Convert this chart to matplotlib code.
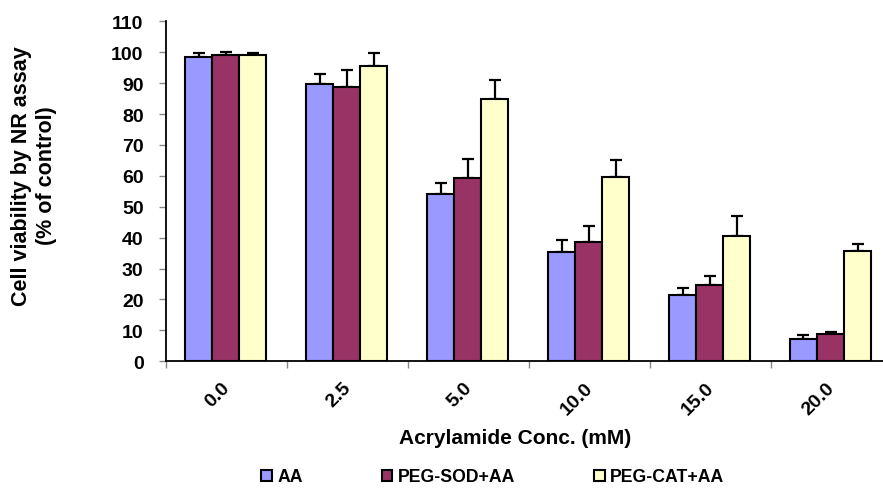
import numpy as np
import matplotlib
matplotlib.use("Agg")
from matplotlib import pyplot as plt
from matplotlib import transforms

plt.rcParams['font.family'] = ['Liberation Sans', 'DejaVu Sans']
plt.rcParams['font.weight'] = 'bold'

conc = ["0.0", "2.5", "5.0", "10.0", "15.0", "20.0"]
series = ["AA", "PEG-SOD+AA", "PEG-CAT+AA"]
aa = [98.6, 89.6, 54.2, 35.3, 21.5, 7.1]
aa_err = [1.2, 3.4, 3.5, 4.1, 2.1, 1.4]
sod = [99.2, 88.7, 59.4, 38.5, 24.6, 8.7]
sod_err = [0.8, 5.6, 6.0, 5.3, 3.1, 0.9]
cat = [99.2, 95.5, 84.8, 59.7, 40.5, 35.7]
cat_err = [0.6, 4.3, 6.3, 5.4, 6.4, 2.3]
colors = ["#9999FF", "#993366", "#FFFFCC"]

fig = plt.figure(figsize=(8.83, 4.89), dpi=100)
ax = fig.add_axes([0.1877, 0.2591, 0.822, 0.6953])

x = np.arange(len(conc))
w = 0.224
handles = []
for i, (vals, errs) in enumerate([(aa, aa_err), (sod, sod_err), (cat, cat_err)]):
    pos = x - 0.004 + (i - 1) * w
    b = ax.bar(pos, vals, w, color=colors[i], edgecolor='black', linewidth=1.5,
               label=series[i], zorder=2)
    ax.errorbar(pos, vals, yerr=[np.zeros(len(errs)), errs], fmt='none',
                ecolor='black', elinewidth=1.6, capsize=4.3, capthick=1.6, zorder=1)
    handles.append(b)

ax.set_xlim(-0.5, 5.5)
ax.set_ylim(0, 110)
ax.set_yticks(np.arange(0, 111, 10))
ax.set_xticks(x)
ax.set_xticks(np.arange(-0.5, 5.6, 1), minor=True)
ax.tick_params(axis='x', which='major', length=0, pad=12.5, labelsize=14)
ax.tick_params(axis='x', which='minor', length=5, color='#888888', width=1)
ax.tick_params(axis='y', length=5, color='#888888', width=1, pad=11, labelsize=14)
ax.set_xticklabels(conc, rotation=45, ha='right', va='top')
offset = transforms.ScaledTranslation(7 / 100, 0, fig.dpi_scale_trans)
for lab in ax.get_xticklabels():
    lab.set_transform(lab.get_transform() + offset)

for s in ['top', 'right']:
    ax.spines[s].set_visible(False)
ax.spines['left'].set_linewidth(1.3)
ax.spines['bottom'].set_linewidth(1.3)

fig.text(515 / 883, 1 - 439 / 489, "Acrylamide Conc. (mM)", ha='center', va='center',
         fontsize=15, fontweight='bold')
fig.text(34 / 883, 1 - 176 / 489, "Cell viability by NR assay\n(% of control)",
         rotation=90, ha='center', va='center', multialignment='center',
         fontsize=15.5, fontweight='bold', linespacing=1.2)

fig.legend(handles=handles, loc='center', bbox_to_anchor=(0.558, 1 - 478 / 489),
           ncol=3, frameon=False, fontsize=12.7, handlelength=0.62, handleheight=0.62,
           handletextpad=0.3, columnspacing=4.45, borderaxespad=0, borderpad=0)

fig.savefig("out.png", dpi=100)
